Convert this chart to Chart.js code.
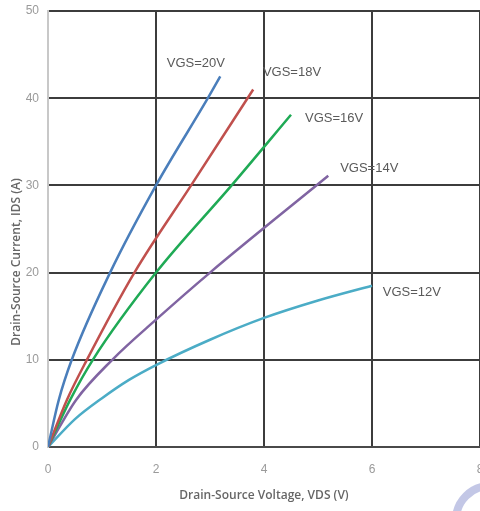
<!DOCTYPE html>
<html>
<head>
<meta charset="utf-8">
<script src="https://cdn.jsdelivr.net/npm/chart.js@4/dist/chart.umd.min.js"></script>
<style>
  html, body { margin: 0; padding: 0; background: #fff; }
  #wrap { width: 480px; height: 511px; position: relative; }
</style>
</head>
<body>
<div id="wrap"><canvas id="ivChart"></canvas></div>
<script>
// output curves, VDS (V) -> IDS (A)
const vds20 = [0, 0.2, 0.44, 1.15, 2.0, 2.96, 3.19];
const ids20 = [0, 5.4, 10, 20, 30, 40, 42.5];
const vds18 = [0, 0.35, 0.72, 1.6, 2.65, 3.8];
const ids18 = [0, 5.4, 10, 20, 30, 41.0];
const vds16 = [0, 0.41, 0.83, 2.0, 3.4, 4.5];
const ids16 = [0, 5.4, 10, 20, 30, 38.1];
const vds14 = [0, 0.52, 1.19, 2.0, 3.0, 5.19];
const ids14 = [0, 5.4, 10, 14.6, 20, 31.1];
const vds12 = [0, 0.5, 1.0, 1.5, 2.0, 3.0, 4.0, 5.0, 6.0];
const ids12 = [0, 3.2, 5.6, 7.7, 9.4, 12.3, 14.8, 16.8, 18.5];

const curveLabels = ["VGS=20V", "VGS=18V", "VGS=16V", "VGS=14V", "VGS=12V"];
const curveColors = ["#4a7ebb", "#c0504d", "#1faa55", "#8064a2", "#4bacc6"];
// where each label text starts (data units)
const labelX = [2.2, 3.98, 4.76, 5.41, 6.2];
const labelY = [44.0, 43.0, 37.7, 32.0, 17.7];

const xTicks = [0, 2, 4, 6, 8];
const yTicks = [0, 10, 20, 30, 40, 50];

const toPts = (xs, ys) => xs.map((x, i) => ({ x: x, y: ys[i] }));
const curves = [
    toPts(vds20, ids20), toPts(vds18, ids18), toPts(vds16, ids16),
    toPts(vds14, ids14), toPts(vds12, ids12)
];

// curve labels, axis titles and the faint watermark ring
const textPlugin = {
    id: "textPlugin",
    afterDraw(chart) {
        const ctx = chart.ctx;
        const xs = chart.scales.x, ys = chart.scales.y;
        const area = chart.chartArea;
        ctx.save();
        ctx.fillStyle = "#5a5a5a";
        ctx.font = "13px 'Liberation Sans'";
        ctx.textAlign = "left";
        ctx.textBaseline = "middle";
        curveLabels.forEach((t, i) => {
            ctx.fillText(t, xs.getPixelForValue(labelX[i]), ys.getPixelForValue(labelY[i]));
        });

        ctx.fillStyle = "#666";
        ctx.font = "600 12px 'Open Sans'";
        ctx.textAlign = "center";
        ctx.fillText("Drain-Source Voltage, VDS (V)", (area.left + area.right) / 2, area.bottom + 49);

        ctx.translate(area.left - 31, area.bottom - 185);
        ctx.rotate(-Math.PI / 2);
        ctx.fillText("Drain-Source Current, IDS (A)", 0, 0);
        ctx.restore();

        ctx.save();
        ctx.strokeStyle = "rgba(170,175,220,0.7)";
        ctx.lineWidth = 8;
        ctx.beginPath();
        ctx.arc(490, 520, 34, 0, Math.PI * 2);
        ctx.stroke();
        ctx.restore();
    }
};

new Chart(document.getElementById("ivChart"), {
    type: "scatter",
    data: {
        datasets: curves.map((pts, i) => ({
            label: curveLabels[i],
            data: pts,
            showLine: true,
            borderColor: curveColors[i],
            borderWidth: 2.5,
            pointRadius: 0,
            cubicInterpolationMode: "monotone",
            fill: false
        }))
    },
    options: {
        responsive: true,
        maintainAspectRatio: false,
        animation: false,
        layout: { padding: { top: 11, right: 0, left: 0, bottom: 0 } },
        plugins: { legend: { display: false }, tooltip: { enabled: false } },
        scales: {
            x: {
                type: "linear",
                min: 0,
                max: 8,
                afterBuildTicks: (s) => { s.ticks = xTicks.map(v => ({ value: v })); },
                afterFit: (s) => { s.height = 64; s.paddingLeft = 0; s.paddingRight = 0; },
                grid: {
                    color: (c) => c.index === 0 ? "#c8c8c8" : "#3c3c3c",
                    lineWidth: 2,
                    drawTicks: false
                },
                border: { color: "#4a4a4a", width: 2 },
                ticks: { color: "#9a9a9a", font: { size: 12, family: "'Liberation Sans'" }, padding: 15 }
            },
            y: {
                type: "linear",
                min: 0,
                max: 50,
                afterBuildTicks: (s) => { s.ticks = yTicks.map(v => ({ value: v })); },
                afterFit: (s) => { s.width = 48; s.paddingTop = 0; s.paddingBottom = 0; },
                grid: { color: "#3c3c3c", lineWidth: 2, drawTicks: false },
                border: { color: "#c8c8c8", width: 2 },
                ticks: { color: "#9a9a9a", font: { size: 12, family: "'Liberation Sans'" }, padding: 9 }
            }
        }
    },
    plugins: [textPlugin]
});
</script>
</body>
</html>
